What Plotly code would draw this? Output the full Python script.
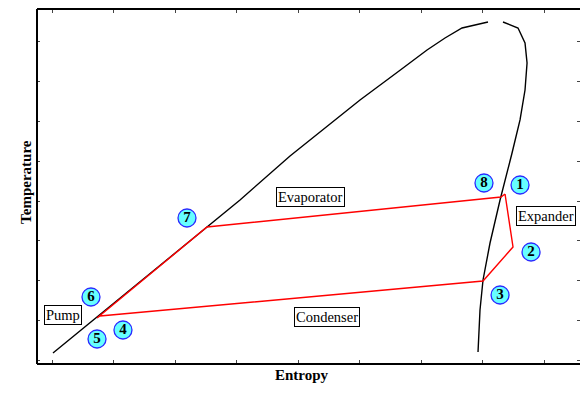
import plotly.graph_objects as go

# Saturation dome (liquid branch and vapour branch), entropy vs temperature
liq_s = [0.016, 0.732, 1.593, 2.520, 3.057, 3.870, 5.008, 5.659, 6.098, 6.390, 6.667, 7.089]
liq_T = [0.176, 1.082, 2.180, 3.346, 4.025, 5.132, 6.541, 7.290, 7.799, 8.100, 8.352, 8.503]

vap_s = [7.333, 7.577, 7.691, 7.724, 7.691, 7.610, 7.480, 7.333, 7.285, 7.122, 7.008, 6.959, 6.927]
vap_T = [8.503, 8.352, 7.975, 7.472, 6.792, 6.038, 5.208, 4.352, 4.025, 2.943, 2.013, 1.258, 0.201]

# Cycle states 1 -> 2 -> 3 -> 4 -> 5 -> 7 -> 8 -> 1
cyc_s = [7.366, 7.496, 7.008, 0.780, 0.732, 2.520, 7.301, 7.366]
cyc_T = [4.176, 2.843, 1.987, 1.107, 1.057, 3.346, 4.101, 4.176]

# State number markers
state_ids = ["1", "8", "2", "3", "7", "6", "5", "4"]
state_s = [7.610, 7.024, 7.789, 7.285, 2.195, 0.634, 0.732, 1.154]
state_T = [4.403, 4.453, 2.717, 1.635, 3.572, 1.585, 0.528, 0.755]

# Component labels
comp_names = ["Evaporator", "Expander", "Condenser", "Pump"]
comp_s = [4.211, 8.033, 4.472, 0.179]
comp_T = [4.101, 3.623, 1.082, 1.132]

tick_vals = [0, 1, 2, 3, 4, 5, 6, 7, 8]

SERIF = "Liberation Serif, Times New Roman, serif"

fig = go.Figure()
fig.add_trace(go.Scatter(x=liq_s, y=liq_T, mode="lines",
                         line=dict(color="black", width=1.4), hoverinfo="skip"))
fig.add_trace(go.Scatter(x=vap_s, y=vap_T, mode="lines",
                         line=dict(color="black", width=1.4), hoverinfo="skip"))
fig.add_trace(go.Scatter(x=cyc_s, y=cyc_T, mode="lines",
                         line=dict(color="#ff0000", width=1.4), hoverinfo="skip"))
fig.add_trace(go.Scatter(x=state_s, y=state_T, mode="markers+text",
                         text=state_ids, textposition="middle center",
                         textfont=dict(family=SERIF, size=15, color="black", weight="bold"),
                         marker=dict(size=18, color="#66ffff",
                                     line=dict(color="#2a2aff", width=1.3)),
                         hoverinfo="skip"))

for name, s, T in zip(comp_names, comp_s, comp_T):
    fig.add_annotation(x=s, y=T, xref="x", yref="y", text=name, showarrow=False,
                       font=dict(family=SERIF, size=14.5, color="black"),
                       bgcolor="white", bordercolor="black", borderwidth=1, borderpad=1)

# Axis titles
fig.add_annotation(x=0, y=0.513, xref="paper", yref="paper", xshift=-21,
                   text="<b>Temperature</b>", textangle=-90, showarrow=False,
                   font=dict(family=SERIF, size=15, color="black"))
fig.add_annotation(x=0.488, y=0, xref="paper", yref="paper", yshift=-21,
                   text="<b>Entropy</b>", showarrow=False,
                   font=dict(family=SERIF, size=15, color="black"))

# Frame: left, top, bottom
for x0, y0, x1, y1 in [(0, 0, 0, 1), (0, 1, 1, 1), (0, 0, 1, 0)]:
    fig.add_shape(type="line", xref="paper", yref="paper", x0=x0, y0=y0, x1=x1, y1=y1,
                  line=dict(color="black", width=2))

fig.update_xaxes(range=[-0.2439, 8.585], tickvals=tick_vals, showticklabels=False,
                 ticks="inside", ticklen=4, tickcolor="#444", tickwidth=1,
                 mirror="ticks", showline=False, showgrid=False, zeroline=False)
fig.update_yaxes(range=[-0.1006, 8.830], tickvals=tick_vals, showticklabels=False,
                 ticks="inside", ticklen=3, tickcolor="#444", tickwidth=1,
                 mirror="ticks", showline=False, showgrid=False, zeroline=False)

fig.update_layout(width=580, height=394, showlegend=False,
                  margin=dict(l=37, r=0, t=9, b=30),
                  paper_bgcolor="white", plot_bgcolor="white")

fig.write_html("out.html")
